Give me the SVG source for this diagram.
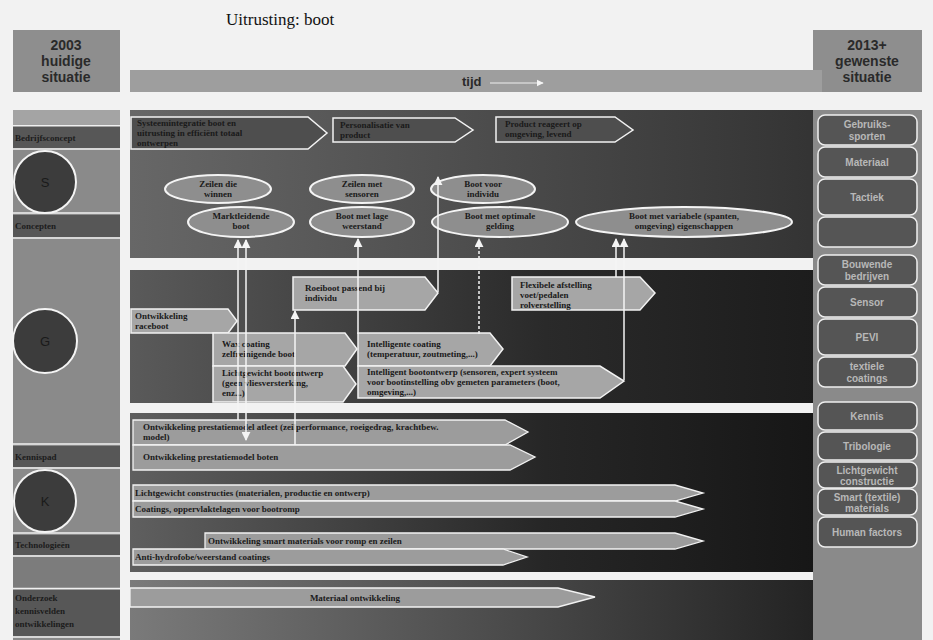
<svg xmlns="http://www.w3.org/2000/svg" width="933" height="640" viewBox="0 0 933 640">
<style>
  .hdr{fill:#8e8e8e}
  .hdrtxt{font-family:"Liberation Sans",Arial,sans-serif;font-size:14px;font-weight:bold;fill:#2a2a2a;text-anchor:middle}
  .col{fill:#8a8a8a}
  .colband{fill:#575757}
  .sep{stroke:#f0f0f0;stroke-width:1.5}
  .lbl{font-family:"Liberation Serif",serif;font-size:9px;font-weight:bold;fill:#1c1c1c}
  .circ{fill:#3c3c3c;stroke:#f4f4f4;stroke-width:2}
  .circtxt{font-family:"Liberation Sans",Arial,sans-serif;font-size:13px;fill:#1a1a1a;text-anchor:middle}
  .pdark{fill:#4e4e4e;stroke:#f2f2f2;stroke-width:1.5}
  .plight{fill:#a6a6a6;stroke:#f2f2f2;stroke-width:1.5}
  .bar{fill:#9c9c9c;stroke:#f2f2f2;stroke-width:1.3}
  .ell{fill:#8e8e8e;stroke:#f4f4f4;stroke-width:2}
  .t{font-family:"Liberation Serif",serif;font-size:9px;font-weight:bold;fill:#1a1a1a}
  .tc{font-family:"Liberation Serif",serif;font-size:9px;font-weight:bold;fill:#1a1a1a;text-anchor:middle}
  .rbox{fill:#555555;stroke:#efefef;stroke-width:1.5}
  .rtxt{font-family:"Liberation Sans",Arial,sans-serif;font-size:10px;font-weight:bold;fill:#b8b8b8;text-anchor:middle}
  .conn{stroke:#f4f4f4;stroke-width:1.5;fill:none}
</style>
<defs>
  <marker id="ah" viewBox="0 0 10 10" refX="9" refY="5" markerWidth="6" markerHeight="6" orient="auto-start-reverse">
    <path d="M0,0 L10,5 L0,10 Z" fill="#f4f4f4"/>
  </marker>
  <linearGradient id="g1" x1="0" y1="0" x2="1" y2="0">
    <stop offset="0" stop-color="#676767"/><stop offset="1" stop-color="#333333"/>
  </linearGradient>
  <linearGradient id="g2" x1="0" y1="0" x2="1" y2="0">
    <stop offset="0" stop-color="#5a5a5a"/><stop offset="0.6" stop-color="#2a2a2a"/><stop offset="1" stop-color="#1c1c1c"/>
  </linearGradient>
  <linearGradient id="g3" x1="0" y1="0" x2="1" y2="0">
    <stop offset="0" stop-color="#5f5f5f"/><stop offset="0.6" stop-color="#262626"/><stop offset="1" stop-color="#161616"/>
  </linearGradient>
  <linearGradient id="g4" x1="0" y1="0" x2="1" y2="0">
    <stop offset="0" stop-color="#7a7a7a"/><stop offset="0.55" stop-color="#4a4a4a"/><stop offset="1" stop-color="#222222"/>
  </linearGradient>
</defs>

<rect width="933" height="640" fill="#f2f2f2"/>

<!-- title -->
<text x="226" y="25" font-family="Liberation Serif,serif" font-size="17" fill="#111">Uitrusting: boot</text>

<!-- header boxes and time axis -->
<g id="hdr-left">
  <rect class="hdr" x="13" y="30" width="107" height="62"/>
  <text class="hdrtxt" x="66" y="50">2003</text>
  <text class="hdrtxt" x="66" y="66">huidige</text>
  <text class="hdrtxt" x="66" y="82">situatie</text>
</g>
<g id="hdr-right">
  <rect class="hdr" x="813" y="30" width="109" height="62"/>
  <text class="hdrtxt" x="867" y="50">2013+</text>
  <text class="hdrtxt" x="867" y="66">gewenste</text>
  <text class="hdrtxt" x="867" y="82">situatie</text>
</g>
<g id="tijd">
  <rect x="130" y="70" width="692" height="22" fill="#9e9e9e"/>
  <text x="462" y="86" font-family="Liberation Sans,Arial,sans-serif" font-size="13" font-weight="bold" fill="#2a2a2a">tijd</text>
  <line x1="490" y1="83" x2="543" y2="83" stroke="#eeeeee" stroke-width="1.2" marker-end="url(#ah)"/>
</g>

<!-- left column -->
<g id="left-col">
  <rect class="col" x="13" y="110" width="107" height="530"/>
  <rect x="13" y="110" width="107" height="14" fill="#a4a4a4"/>
  <rect class="colband" x="13" y="127" width="107" height="21"/>
  <rect class="colband" x="13" y="215" width="107" height="22"/>
  <rect class="colband" x="13" y="446" width="107" height="21"/>
  <rect class="colband" x="13" y="535" width="107" height="20"/>
  <rect x="13" y="557" width="107" height="31" fill="#7c7c7c"/>
  <rect class="colband" x="13" y="590" width="107" height="46"/>
  <line class="sep" x1="13" y1="125.5" x2="120" y2="125.5"/>
  <line class="sep" x1="13" y1="149" x2="120" y2="149"/>
  <line class="sep" x1="13" y1="213" x2="120" y2="213"/>
  <line class="sep" x1="13" y1="238" x2="120" y2="238"/>
  <line class="sep" x1="13" y1="444" x2="120" y2="444"/>
  <line class="sep" x1="13" y1="468" x2="120" y2="468"/>
  <line class="sep" x1="13" y1="533" x2="120" y2="533"/>
  <line class="sep" x1="13" y1="556" x2="120" y2="556"/>
  <line class="sep" x1="13" y1="588.5" x2="120" y2="588.5"/>
  <line class="sep" x1="13" y1="637" x2="120" y2="637"/>
  <text class="lbl" x="15" y="141">Bedrijfsconcept</text>
  <text class="lbl" x="15" y="229">Concepten</text>
  <text class="lbl" x="15" y="460">Kennispad</text>
  <text class="lbl" x="15" y="548">Technologieën</text>
  <text class="lbl" x="15" y="601">Onderzoek</text>
  <text class="lbl" x="15" y="614">kennisvelden</text>
  <text class="lbl" x="15" y="627">ontwikkelingen</text>
</g>
<g id="circle-s"><circle class="circ" cx="45" cy="182" r="31"/><text class="circtxt" x="45" y="187">S</text></g>
<g id="circle-g"><circle class="circ" cx="45" cy="341" r="32"/><text class="circtxt" x="45" y="346">G</text></g>
<g id="circle-k"><circle class="circ" cx="45" cy="501" r="31"/><text class="circtxt" x="45" y="506">K</text></g>

<!-- main bands -->
<rect x="130" y="110" width="692" height="148" fill="url(#g1)"/>
<rect x="130" y="270" width="692" height="133" fill="url(#g2)"/>
<rect x="130" y="413" width="692" height="159" fill="url(#g3)"/>
<rect x="130" y="580" width="692" height="60" fill="url(#g4)"/>

<!-- band 1: strategy arrows -->
<g id="p1">
  <path class="pdark" d="M131,117 H308 L327,133 L308,149 H131 Z"/>
  <text class="t" x="137" y="126">Systeemintegratie boot en</text>
  <text class="t" x="137" y="136">uitrusting in efficiënt totaal</text>
  <text class="t" x="137" y="146">ontwerpen</text>
</g>
<g id="p2">
  <path class="pdark" d="M333,118 H455 L473,130 L455,142 H333 Z"/>
  <text class="t" x="340" y="128">Personalisatie van</text>
  <text class="t" x="340" y="138">product</text>
</g>
<g id="p3">
  <path class="pdark" d="M496,117 H615 L633,130 L615,142 H496 Z"/>
  <text class="t" x="505" y="127">Product reageert op</text>
  <text class="t" x="505" y="137">omgeving, levend</text>
</g>

<!-- band 1: goals -->
<g id="e1"><ellipse class="ell" cx="218" cy="189" rx="53" ry="14"/><text class="tc" x="218" y="187">Zeilen die</text><text class="tc" x="218" y="197">winnen</text></g>
<g id="e2"><ellipse class="ell" cx="241" cy="222" rx="53" ry="15"/><text class="tc" x="241" y="219">Marktleidende</text><text class="tc" x="241" y="229">boot</text></g>
<g id="e3"><ellipse class="ell" cx="362" cy="189" rx="52" ry="14"/><text class="tc" x="362" y="187">Zeilen met</text><text class="tc" x="362" y="197">sensoren</text></g>
<g id="e4"><ellipse class="ell" cx="362" cy="222" rx="52" ry="15"/><text class="tc" x="362" y="219">Boot met lage</text><text class="tc" x="362" y="229">weerstand</text></g>
<g id="e5"><ellipse class="ell" cx="483" cy="189" rx="52" ry="14"/><text class="tc" x="483" y="187">Boot voor</text><text class="tc" x="483" y="197">individu</text></g>
<g id="e6"><ellipse class="ell" cx="500" cy="222" rx="68" ry="15"/><text class="tc" x="500" y="219">Boot met optimale</text><text class="tc" x="500" y="229">gelding</text></g>
<g id="e7"><ellipse class="ell" cx="684" cy="222" rx="108" ry="15"/><text class="tc" x="684" y="219">Boot met variabele (spanten,</text><text class="tc" x="684" y="229">omgeving) eigenschappen</text></g>

<!-- band 2: products -->
<g id="q1">
  <path class="plight" d="M131,309 H228 L237,321 L228,333 H131 Z"/>
  <text class="t" x="135" y="319">Ontwikkeling</text>
  <text class="t" x="135" y="329">raceboot</text>
</g>
<g id="q2">
  <path class="plight" d="M293,277 H425 L438,293 L425,310 H293 Z"/>
  <text class="t" x="305" y="291">Roeiboot passend bij</text>
  <text class="t" x="305" y="301">individu</text>
</g>
<g id="q7">
  <path class="plight" d="M512,277 H640 L655,293 L640,310 H512 Z"/>
  <text class="t" x="520" y="288">Flexibele afstelling</text>
  <text class="t" x="520" y="298">voet/pedalen</text>
  <text class="t" x="520" y="308">rolverstelling</text>
</g>
<g id="q3">
  <path class="plight" d="M213,333 H345 L357,349 L345,366 H213 Z"/>
  <text class="t" x="222" y="347">Wax coating</text>
  <text class="t" x="222" y="357">zelfreinigende boot</text>
</g>
<g id="q4">
  <path class="plight" d="M213,366 H343 L356,384 L343,402 H213 Z"/>
  <text class="t" x="222" y="376">Lichtgewicht bootontwerp</text>
  <text class="t" x="222" y="386">(geen vliesversterking,</text>
  <text class="t" x="222" y="396">enz...)</text>
</g>
<g id="q5">
  <path class="plight" d="M358,333 H490 L503,349 L490,366 H358 Z"/>
  <text class="t" x="367" y="347">Intelligente coating</text>
  <text class="t" x="367" y="357">(temperatuur, zoutmeting,...)</text>
</g>
<g id="q6">
  <path class="plight" d="M358,366 H600 L624,381 L600,398 H358 Z"/>
  <text class="t" x="367" y="375">Intelligent bootontwerp (sensoren, expert systeem</text>
  <text class="t" x="367" y="385">voor bootinstelling obv gemeten parameters (boot,</text>
  <text class="t" x="367" y="395">omgeving,...)</text>
</g>

<!-- band 3: knowledge paths -->
<g id="b1">
  <path class="bar" d="M133,420 H505 L528,432 L505,445 H133 Z"/>
  <text class="t" x="143" y="430">Ontwikkeling prestatiemodel atleet (zeilperformance, roeigedrag, krachtbew.</text>
  <text class="t" x="143" y="440">model)</text>
</g>
<g id="b2">
  <path class="bar" d="M133,445 H510 L535,457 L510,470 H133 Z"/>
  <text class="t" x="143" y="460">Ontwikkeling prestatiemodel boten</text>
</g>
<g id="b3">
  <path class="bar" d="M133,485 H675 L703,493 L675,501 H133 Z"/>
  <text class="t" x="135" y="496">Lichtgewicht constructies (materialen, productie en ontwerp)</text>
</g>
<g id="b4">
  <path class="bar" d="M133,501 H675 L703,509 L675,517 H133 Z"/>
  <text class="t" x="135" y="512">Coatings, oppervlaktelagen voor bootromp</text>
</g>
<g id="b5">
  <path class="bar" d="M205,533 H675 L703,541 L675,549 H205 Z"/>
  <text class="t" x="208" y="544">Ontwikkeling smart materials voor romp en zeilen</text>
</g>
<g id="b6">
  <path class="bar" d="M133,549 H503 L527,557 L503,565 H133 Z"/>
  <text class="t" x="135" y="560">Anti-hydrofobe/weerstand coatings</text>
</g>

<!-- band 4 -->
<g id="b7">
  <path class="bar" d="M130,588 H558 L595,597 L558,607 H130 Z"/>
  <text class="tc" x="355" y="601">Materiaal ontwikkeling</text>
</g>

<!-- connectors -->
<g id="connectors">
  <line class="conn" x1="238" y1="420" x2="238" y2="240" marker-end="url(#ah)"/>
  <line class="conn" x1="246" y1="440" x2="246" y2="240" marker-start="url(#ah)" marker-end="url(#ah)"/>
  <line class="conn" x1="295" y1="445" x2="295" y2="311" marker-end="url(#ah)"/>
  <line class="conn" x1="358" y1="334" x2="358" y2="239" marker-end="url(#ah)"/>
  <line class="conn" x1="438" y1="292" x2="438" y2="177" marker-end="url(#ah)"/>
  <line class="conn" x1="479" y1="334" x2="479" y2="239" stroke-dasharray="3,2" marker-end="url(#ah)"/>
  <line class="conn" x1="616" y1="277" x2="616" y2="239" marker-end="url(#ah)"/>
  <line class="conn" x1="624" y1="380" x2="624" y2="239" marker-end="url(#ah)"/>
</g>

<!-- right column -->
<g id="right-col">
  <rect class="col" x="813" y="110" width="109" height="530"/>
</g>
<g id="r1"><rect class="rbox" x="818" y="115" width="99" height="30" rx="7"/><text class="rtxt" x="867" y="128">Gebruiks-</text><text class="rtxt" x="867" y="140">sporten</text></g>
<g id="r2"><rect class="rbox" x="818" y="147" width="99" height="30" rx="7"/><text class="rtxt" x="867" y="166">Materiaal</text></g>
<g id="r3"><rect class="rbox" x="818" y="179" width="99" height="36" rx="7"/><text class="rtxt" x="867" y="201">Tactiek</text></g>
<g id="r4"><rect class="rbox" x="818" y="217" width="99" height="30" rx="7"/></g>
<g id="r5"><rect class="rbox" x="818" y="255" width="99" height="30" rx="7"/><text class="rtxt" x="867" y="268">Bouwende</text><text class="rtxt" x="867" y="280">bedrijven</text></g>
<g id="r6"><rect class="rbox" x="818" y="287" width="99" height="30" rx="7"/><text class="rtxt" x="867" y="306">Sensor</text></g>
<g id="r7"><rect class="rbox" x="818" y="319" width="99" height="36" rx="7"/><text class="rtxt" x="867" y="341">PEVI</text></g>
<g id="r8"><rect class="rbox" x="818" y="357" width="99" height="30" rx="7"/><text class="rtxt" x="867" y="370">textiele</text><text class="rtxt" x="867" y="382">coatings</text></g>
<g id="r9"><rect class="rbox" x="818" y="402" width="99" height="28" rx="7"/><text class="rtxt" x="867" y="420">Kennis</text></g>
<g id="r10"><rect class="rbox" x="818" y="432" width="99" height="28" rx="7"/><text class="rtxt" x="867" y="450">Tribologie</text></g>
<g id="r11"><rect class="rbox" x="818" y="462" width="99" height="26" rx="7"/><text class="rtxt" x="867" y="474">Lichtgewicht</text><text class="rtxt" x="867" y="485">constructie</text></g>
<g id="r12"><rect class="rbox" x="818" y="489" width="99" height="26" rx="7"/><text class="rtxt" x="867" y="501">Smart (textile)</text><text class="rtxt" x="867" y="512">materials</text></g>
<g id="r13"><rect class="rbox" x="818" y="517" width="99" height="30" rx="7"/><text class="rtxt" x="867" y="536">Human factors</text></g>
</svg>
